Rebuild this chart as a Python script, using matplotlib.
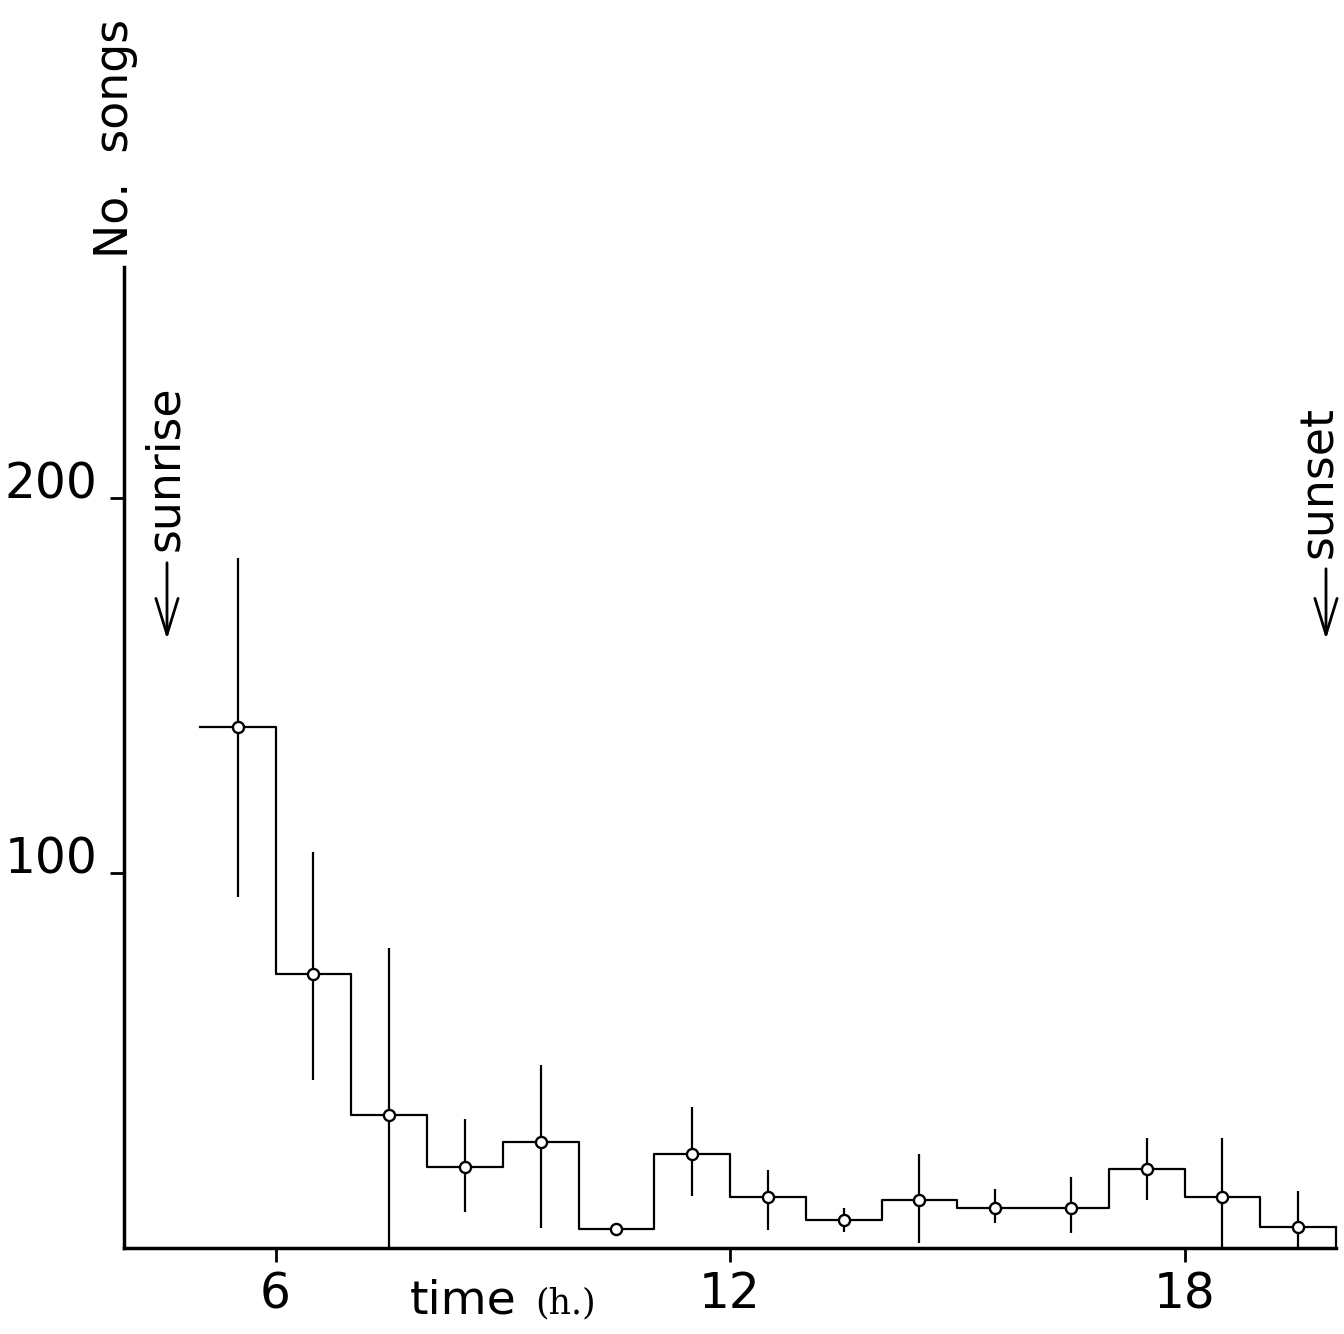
import numpy as np
import matplotlib
matplotlib.use("Agg")
import matplotlib.pyplot as plt

# hourly bins (h), songs per hour
edges = [5, 6, 7, 8, 9, 10, 11, 12, 13, 14, 15, 16, 17, 18, 19, 20]
songs = [139, 73, 35.5, 21.5, 28.3, 5, 25.2, 13.6, 7.5, 12.8, 10.7, 10.8, 21.2, 13.7, 5.6]
err_lo = [93.7, 44.8, 0, 9.6, 5.3, np.nan, 14, 4.8, 4.4, 1.3, 6.7, 4, 12.8, 0, 0]
err_hi = [184, 105.6, 80, 34.4, 48.8, np.nan, 37.7, 20.8, 10.7, 25, 15.7, 19, 29.4, 29.3, 15.3]

xticks = [6, 12, 18]
yticks = [100, 200]

W, H = 1344, 1334
fig = plt.figure(figsize=(W / 100, H / 100), dpi=100)
ax = fig.add_axes([124 / W, 86 / H, 1212 / W, 981 / H])

mids = np.array(edges[:-1]) + 0.5

# step histogram, open on the left, closed to the axis on the right
ax.plot(edges, songs + [songs[-1]], drawstyle="steps-post", color="black", lw=1.6, clip_on=False)
ax.vlines(edges[-1], 0, songs[-1], color="black", lw=1.6, clip_on=False)

# ranges
ax.vlines(mids, err_lo, err_hi, color="black", lw=1.6)
ax.plot(mids, songs, "o", ms=8, mfc="white", mec="black", mew=1.7, zorder=4)

ax.set_xlim(4, 20)
ax.set_ylim(0, 261.6)
ax.set_xticks(xticks)
ax.set_yticks(yticks)
ax.tick_params(direction="out", length=10, width=2, labelsize=35, color="black")
ax.tick_params(axis="y", pad=9)
ax.tick_params(axis="x", pad=6)
for lbl in ax.get_yticklabels():
    lbl.set_va("baseline")

for s in ["top", "right"]:
    ax.spines[s].set_visible(False)
for s in ["left", "bottom"]:
    ax.spines[s].set_linewidth(2.5)

# texts
def fx(px):
    return px / W

def fy(py):
    return (H - py) / H

fig.text(fx(115), fy(258), "No.  songs", rotation=90, ha="center", va="bottom", fontsize=33)
fig.text(fx(410), fy(1313), "time", ha="left", va="baseline", fontsize=34)
fig.text(fx(535), fy(1313), "(h.)", ha="left", va="baseline", fontsize=25, family="DejaVu Serif")

fig.text(fx(166), fy(468), "sunrise", rotation=90, ha="center", va="center", fontsize=33)
fig.text(fx(1320), fy(482), "sunset", rotation=90, ha="center", va="center", fontsize=33)

arrow = dict(arrowstyle="->, head_length=1.3, head_width=0.4", lw=2, color="black", mutation_scale=20)
fig.patches.append(matplotlib.patches.FancyArrowPatch(
    (fx(167), fy(560)), (fx(167), fy(642)), transform=fig.transFigure, **arrow))
fig.patches.append(matplotlib.patches.FancyArrowPatch(
    (fx(1326), fy(566)), (fx(1326), fy(642)), transform=fig.transFigure, **arrow))

fig.savefig("out.png", dpi=100)
